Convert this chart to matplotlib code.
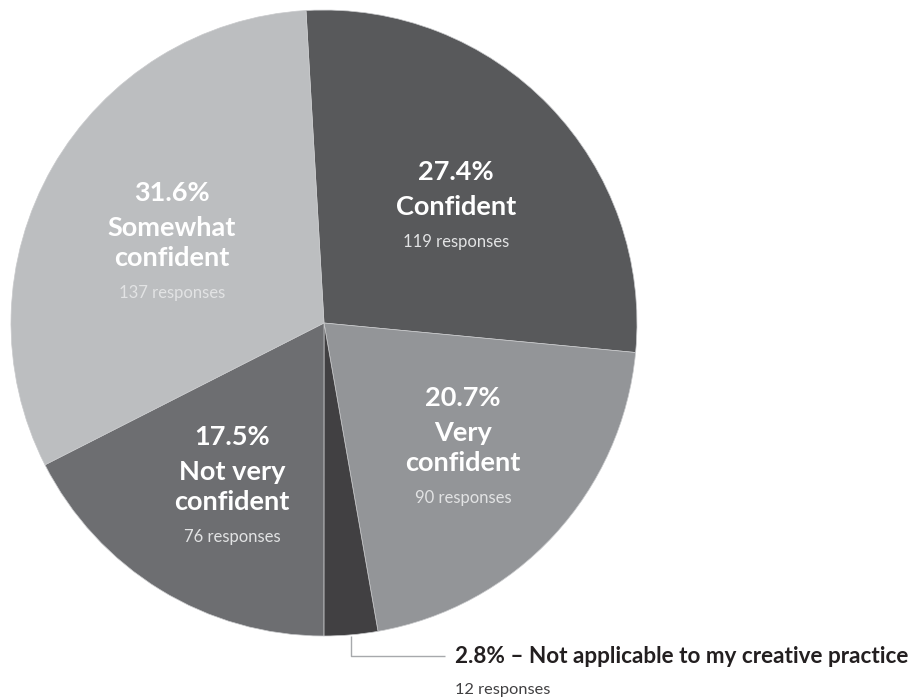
import numpy as np
import matplotlib
matplotlib.use("Agg")
import matplotlib.pyplot as plt

# survey answers, clockwise from the top
names = ["Confident", "Very\nconfident", "Not applicable to my creative practice",
         "Not very\nconfident", "Somewhat\nconfident"]
counts = [119, 90, 12, 76, 137]
pcts = [27.4, 20.7, 2.8, 17.5, 31.6]
colors = ["#58595b", "#939598", "#414042", "#6d6e71", "#bcbec0"]
# where each inside label block sits: fraction of radius, nudge off the mid-angle (deg)
label_r = [0.561, 0.596, None, 0.602, 0.550]
label_turn = [-2.6, 0.85, 0, 2.3, 2.0]

plt.rcParams["font.family"] = ["Lato", "DejaVu Sans"]

fig = plt.figure(figsize=(9.16, 6.97), dpi=100)
ax = fig.add_axes([0.01201, 0.08752, 0.6834, 0.8981])

wedges, _ = ax.pie(counts, colors=colors, startangle=93.3, counterclock=False,
                   radius=1.0, wedgeprops=dict(edgecolor="#c9cacc", linewidth=0.5))
ax.set_xlim(-1, 1)
ax.set_ylim(-1, 1)
ax.set_aspect("equal")
ax.axis("off")

for w, name, n, p, r, turn in zip(wedges, names, counts, pcts, label_r, label_turn):
    mid = np.deg2rad((w.theta1 + w.theta2) / 2 + turn)
    if r is None:
        # small slice: leader line out to a label below the pie
        lx = np.cos(mid)
        ax.plot([lx, lx, 0.387], [np.sin(mid) - 0.003, -1.064, -1.064],
                color="#a7a9ac", lw=1.0, clip_on=False, solid_capstyle="butt")
        ax.text(0.4185, -1.067, f"{p}% – {name}", fontsize=16.2, fontweight="bold",
                color="#231f20", ha="left", va="center")
        ax.text(0.4185, -1.1725, f"{n} responses", fontsize=11.8,
                color="#414042", ha="left", va="center")
        continue
    cx, cy = r * np.cos(mid), r * np.sin(mid)
    lines = name.split("\n")
    # vertical stack in pixels: pct, name line(s), responses
    offs = [0, 35] + [35 + 30 * k for k in range(1, len(lines))]
    offs.append(offs[-1] + 35)
    shift = offs[-1] / 2
    items = [(f"{p}%", True)] + [(t, True) for t in lines] + [(f"{n} responses", False)]
    for (txt, bold), o in zip(items, offs):
        ax.annotate(txt, (cx, cy), xytext=(0, -(o - shift) * 0.72),
                    textcoords="offset points", ha="center", va="center",
                    fontsize=19.5 if bold else 12,
                    fontweight="bold" if bold else "normal",
                    color="white" if bold else "#e2e3e4")

fig.savefig("out.png", dpi=100)
